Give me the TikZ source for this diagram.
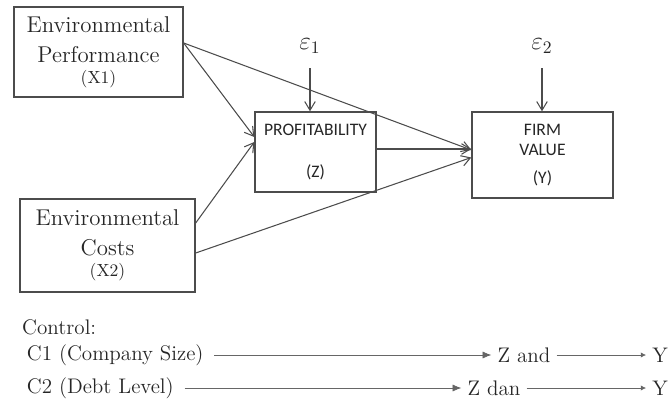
\documentclass[tikz,border=0pt]{standalone}
\usepackage{fontspec}
\newfontfamily\calfont{Carlito}
\usetikzlibrary{arrows.meta,positioning}

\begin{document}
\begin{tikzpicture}[
    x=0.02cm, y=-0.02cm,
    var/.style={
        rectangle,
        draw=black!70,
        line width=0.8pt,
        align=center,
        text=black!85,
        inner sep=2pt
    },
    path/.style={
        -{Straight Barb[length=5pt,width=6pt]},
        draw=black!70,
        line width=0.6pt
    },
    ctrl/.style={
        -{Latex[length=5pt,width=4pt]},
        draw=black!60,
        line width=0.4pt
    },
    label/.style={text=black!85, font=\large}
]
    \useasboundingbox (0,0) rectangle (670,403);

    % Independent variables
    \node[var, minimum width=3.38cm, minimum height=1.8cm, font=\fontsize{13}{17}\selectfont] (x1) at (98.5,52)
        {Environmental\\ Performance\\[-5pt] {\normalsize (X1)}};
    \node[var, minimum width=3.5cm, minimum height=1.86cm, font=\fontsize{13}{17}\selectfont] (x2) at (107.5,245.5)
        {Environmental\\ Costs\\[-5pt] {\normalsize (X2)}};

    % Intervening and dependent variable
    \node[var, minimum width=2.42cm, minimum height=1.6cm, font=\calfont\normalsize] (z) at (315.5,152)
        {PROFITABILITY\\[12pt] (Z)};
    \node[var, minimum width=2.82cm, minimum height=1.72cm, font=\calfont\normalsize] (y) at (542.5,155)
        {FIRM\\[-1pt] VALUE\\[4pt] (Y)};

    % Error terms
    \node[label, font=\Large] (e1) at (310,46) {$\varepsilon_{1}$};
    \node[label, font=\Large] (e2) at (542,46) {$\varepsilon_{2}$};
    \draw[path] (e1.south) ++(0,-5pt) -- (e1 |- z.north);
    \draw[path] (e2.south) ++(0,-5pt) -- (e2 |- y.north);

    % Paths
    \draw[path] ([yshift=0.18cm]x1.east) -- ([yshift=0.3cm]z.west);
    \draw[path] ([yshift=0.18cm]x1.east) -- ([yshift=0.1cm]y.west);
    \draw[path] ([yshift=0.45cm]x2.east) -- ([yshift=0.2cm]z.west);
    \draw[path] ([yshift=-0.15cm]x2.east) -- ([yshift=-0.05cm]y.west);
    \draw[path] ([yshift=0.06cm]z.east) -- ([yshift=0.06cm]z.east -| y.west);

    % Control variables
    \node[label, anchor=west] (control) at (16,327) {Control:};
    \node[label, anchor=west, inner sep=6pt] (c1) at (16,355) {C1 (Company Size)};
    \node[label] (zand) at (524,355) {Z and};
    \node[label] (y1) at (660,355) {Y};
    \node[label, anchor=west, inner sep=6pt] (c2) at (16,388) {C2 (Debt Level)};
    \node[label] (zdan) at (494,388) {Z dan};
    \node[label] (y2) at (660,388) {Y};

    \draw[ctrl] (c1) -- (zand);
    \draw[ctrl, -{Latex[length=3pt,width=3pt]}] (zand) -- (y1);
    \draw[ctrl] (c2) -- (zdan);
    \draw[ctrl, -{Latex[length=3pt,width=3pt]}] (zdan) -- (y2);

\end{tikzpicture}
\end{document}
